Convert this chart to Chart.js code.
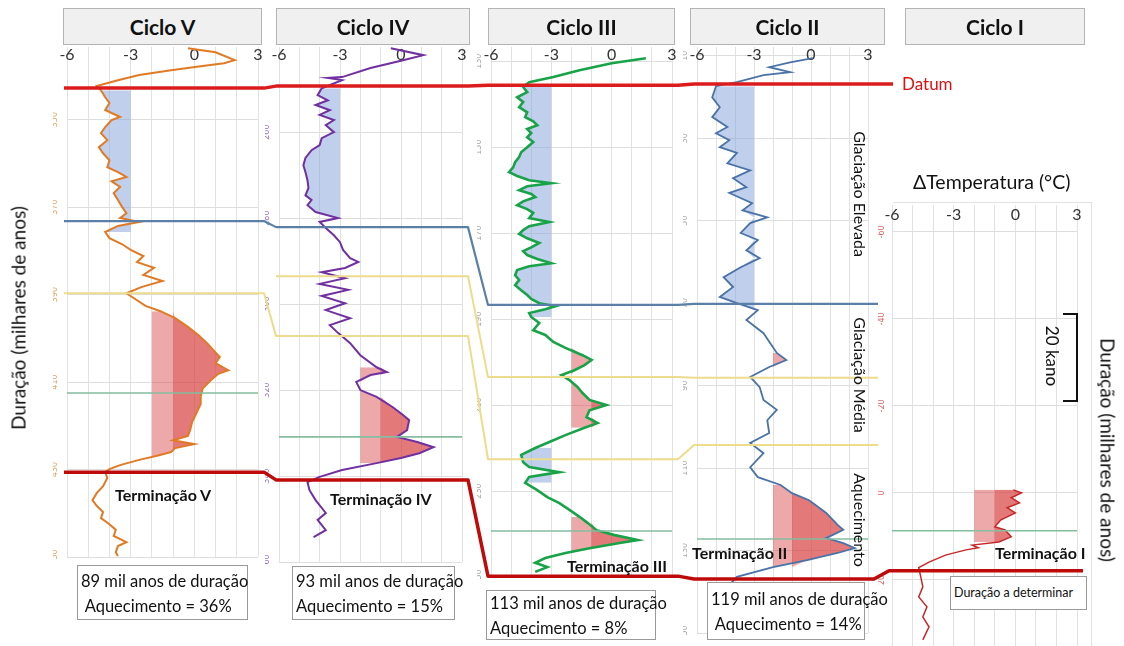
<!DOCTYPE html>
<html lang="pt">
<head>
<meta charset="utf-8">
<title>Ciclos glaciais</title>
<script src="https://cdn.jsdelivr.net/npm/chart.js@4.4.1/dist/chart.umd.min.js"></script>
<style>
  html, body { margin: 0; padding: 0; background: #fff; }
  #stage { position: relative; width: 1124px; height: 646px; overflow: hidden; font-family: Lato, "Open Sans", sans-serif; color: #111; }
  #stage canvas { position: absolute; }
  #overlay { left: 0; top: 0; pointer-events: none; z-index: 2; }
  .header { position: absolute; top: 8px; height: 37px; background: #f0f0f0; border: 1px solid #b4b4b4; box-sizing: border-box; display: flex; align-items: center; justify-content: center; font-weight: 700; font-size: 21px; z-index: 3; }
  .note { position: absolute; background: #fff; border: 1px solid #9a9a9a; box-sizing: border-box; font-size: 16.5px; line-height: 25px; padding: 1px 3px; white-space: nowrap; z-index: 3; }
  .term { position: absolute; font-weight: 700; font-size: 16px; white-space: nowrap; transform: translateY(-50%); z-index: 3; }
  .rot { position: absolute; white-space: nowrap; z-index: 3; }
  .frame { position: absolute; border-top: 1px solid #e2e2e2; border-right: 1px solid #e2e2e2; z-index: 0; }
</style>
</head>
<body>
<div id="stage"></div>
<script>
// curvas: [tempo (milhares de anos), ΔTemperatura (°C)]
const cicloV = [[333.7,-0.3],[334.6,1.0],[336.4,1.9],[337.1,1.4],[337.8,0.3],[338.7,-1.1],[339.8,-2.6],[341.0,-3.6],[342.3,-4.6],[343.3,-4.4],[344.9,-4.2],[346.2,-4.0],[347.8,-4.2],[349.4,-3.5],[350.1,-3.9],[351.7,-4.2],[353.1,-4.4],[354.7,-4.1],[356.3,-4.5],[357.7,-4.3],[359.3,-4.0],[360.9,-4.1],[362.0,-3.6],[363.1,-3.2],[364.1,-3.9],[365.4,-3.5],[366.8,-3.8],[368.4,-3.6],[370.0,-3.4],[371.4,-3.2],[372.5,-3.5],[373.4,-2.6],[374.3,-3.6],[375.7,-4.2],[377.1,-4.0],[378.5,-3.4],[379.8,-3.0],[381.2,-2.4],[382.6,-2.7],[383.9,-1.9],[385.5,-2.4],[386.9,-1.5],[388.3,-2.5],[389.7,-3.2],[391.3,-2.7],[392.6,-2.3],[393.8,-1.6],[395.4,-0.9],[397.4,-0.3],[399.3,0.2],[401.1,0.6],[402.7,0.9],[404.3,1.2],[405.7,1.0],[407.3,1.6],[408.2,1.1],[409.5,0.8],[411.4,0.4],[413.2,0.3],[415.0,0.3],[417.1,0.1],[419.1,-0.1],[421.0,-0.2],[422.3,-0.3],[423.3,-1.0],[424.2,0.0],[425.1,-0.9],[426.0,-1.1],[426.9,-1.8],[427.8,-2.6],[429.0,-3.5],[429.9,-4.0],[430.6,-4.2],[431.9,-4.1],[433.8,-4.3],[435.4,-4.6],[437.0,-4.8],[438.3,-4.6],[439.7,-4.3],[441.1,-4.4],[442.5,-4.0],[443.8,-3.7],[445.2,-3.8],[446.6,-3.2],[447.5,-3.6],[448.9,-3.7],[449.8,-3.6]];
const cicloIV = [[240.5,-0.5],[242.1,1.1],[243.3,0.1],[245.1,-1.5],[247.2,-2.9],[247.4,-3.6],[247.9,-2.9],[249.8,-3.9],[251.4,-4.1],[252.6,-3.6],[253.7,-4.2],[254.9,-3.5],[256.0,-4.0],[257.2,-3.3],[258.4,-3.7],[260.0,-3.3],[261.4,-3.9],[263.0,-4.0],[264.2,-4.4],[266.0,-4.7],[267.7,-4.8],[269.3,-4.7],[271.2,-4.6],[273.0,-4.55],[274.7,-4.7],[275.8,-4.4],[277.0,-4.6],[278.6,-4.2],[280.0,-3.1],[280.9,-4.0],[282.3,-3.7],[284.0,-3.3],[285.6,-3.0],[287.4,-2.85],[289.3,-2.5],[290.2,-2.1],[291.6,-2.75],[292.6,-3.9],[294.0,-2.75],[295.3,-4.0],[296.7,-2.6],[298.1,-3.9],[299.8,-2.75],[301.4,-3.7],[303.3,-2.5],[304.9,-3.5],[306.7,-3.1],[309.1,-2.5],[311.9,-2.0],[314.7,-1.2],[315.8,-0.7],[316.5,-1.5],[318.1,-2.2],[320.0,-2.0],[321.6,-1.2],[324.0,-0.4],[325.8,0.1],[327.0,0.4],[329.3,0.3],[330.9,-0.2],[332.1,0.8],[333.3,1.6],[334.7,0.9],[335.8,0.0],[337.0,-1.2],[338.6,-2.9],[340.2,-4.0],[341.4,-4.6],[343.3,-4.5],[345.6,-4.2],[348.6,-3.7],[350.2,-4.1],[352.6,-3.7],[354.2,-4.3]];
const cicloIII = [[129.3,1.7],[130.5,0.0],[132.1,-1.6],[133.7,-2.9],[134.9,-4.1],[136.0,-4.4],[137.2,-4.2],[138.4,-4.7],[139.5,-4.4],[140.7,-4.6],[141.9,-4.2],[143.0,-4.3],[144.0,-3.9],[144.9,-3.7],[145.8,-4.2],[146.7,-4.0],[147.7,-4.2],[148.8,-3.9],[150.0,-4.2],[151.2,-4.5],[152.3,-4.6],[153.5,-4.8],[154.7,-4.9],[155.8,-5.1],[156.7,-4.7],[157.7,-4.1],[158.4,-3.0],[159.1,-4.2],[160.0,-4.6],[160.9,-4.0],[161.6,-3.8],[162.6,-4.4],[163.5,-4.7],[164.4,-4.2],[165.3,-3.9],[166.5,-4.1],[167.4,-3.1],[168.4,-4.1],[169.3,-4.4],[170.2,-4.6],[171.2,-4.2],[172.3,-3.6],[173.3,-4.0],[174.2,-4.4],[175.1,-4.2],[176.0,-3.7],[177.0,-3.0],[177.7,-4.1],[178.6,-4.7],[179.8,-4.8],[180.9,-4.6],[182.1,-4.8],[183.3,-4.5],[184.4,-4.2],[185.3,-4.0],[186.3,-3.6],[187.0,-2.8],[187.7,-3.3],[188.6,-4.1],[189.5,-4.0],[190.9,-3.6],[192.6,-3.9],[193.7,-3.3],[195.3,-2.9],[196.7,-2.3],[198.4,-1.45],[199.5,-1.0],[200.7,-1.35],[201.9,-1.85],[203.0,-2.5],[204.2,-2.1],[205.8,-1.7],[207.2,-1.45],[208.8,-1.1],[210.0,-0.26],[211.2,-1.1],[212.8,-1.25],[214.2,-0.7],[215.3,-1.35],[217.0,-2.3],[218.6,-3.1],[220.0,-3.8],[221.6,-4.5],[223.3,-4.4],[224.4,-4.1],[225.6,-2.6],[226.7,-4.1],[228.1,-4.3],[229.8,-3.7],[231.4,-3.2],[232.8,-2.6],[234.4,-2.1],[236.0,-1.6],[237.4,-1.2],[239.1,-0.75],[240.2,0.1],[241.4,1.3],[242.1,0.4],[243.3,-1.1],[244.4,-2.3],[245.6,-3.3],[246.7,-3.8],[247.7,-3.2],[248.8,-3.8]];
const cicloII = [[10.6,0.1],[11.6,-1.1],[12.8,-2.2],[14.0,-1.1],[14.7,-2.5],[16.4,-3.9],[17.4,-5.0],[20.1,-5.2],[22.5,-4.8],[24.9,-5.2],[27.3,-4.4],[28.8,-5.0],[30.5,-4.3],[32.2,-4.8],[33.6,-3.9],[36.1,-4.4],[37.8,-3.2],[39.7,-4.1],[41.9,-3.4],[43.3,-4.3],[45.8,-3.1],[47.5,-3.6],[49.2,-2.3],[50.6,-3.2],[53.0,-3.7],[54.7,-2.8],[57.2,-3.4],[59.1,-2.7],[61.3,-3.7],[63.7,-4.6],[66.1,-4.1],[68.5,-4.8],[70.0,-3.9],[71.7,-2.8],[74.1,-3.4],[77.3,-2.5],[82.1,-1.8],[83.8,-1.3],[85.5,-2.2],[87.9,-3.2],[90.4,-2.7],[93.5,-2.5],[95.9,-1.8],[98.4,-2.3],[101.5,-2.2],[103.9,-3.2],[106.4,-2.5],[109.8,-3.2],[112.2,-2.8],[114.1,-1.6],[116.1,-1.0],[117.8,-0.1],[120.9,0.8],[123.8,1.4],[125.0,1.7],[127.0,0.8],[128.2,1.7],[129.4,2.3],[130.6,1.4],[132.3,-0.2],[134.0,-2.0],[136.4,-3.9],[138.4,-4.3]];
const cicloI = [[-0.7,-0.1],[0.0,0.3],[1.1,-0.2],[2.3,0.2],[3.4,-0.4],[4.6,0.0],[6.2,-0.7],[7.8,-1.0],[8.5,-0.5],[10.1,-0.2],[11.3,-0.8],[12.0,-2.1],[12.6,-1.8],[13.1,-2.4],[14.3,-3.4],[15.9,-4.2],[17.2,-4.7],[19.3,-4.6],[21.6,-4.5],[23.9,-4.7],[26.2,-4.3],[28.5,-4.5],[30.8,-4.2],[33.8,-4.5]];

// faixas de tempo sombreadas (glaciação elevada / aquecimento)
const azulV = [[342.8, 376.0]];
const vermelhoV = [[393.5, 426.9]];
const azulIV = [[248.6, 280.5]];
const vermelhoIV = [[314.7, 337.4]];
const azulIII = [[135.6, 189.5], [219.8, 229.3]];
const vermelhoIII = [[196.7, 215.8], [235.1, 244.4]];
const azulII = [[16.9, 72.4]];
const vermelhoII = [[82.1, 85.5], [114.1, 134.0]];
const azulI = [];
const vermelhoI = [[-0.7, 11.3]];

// eixos de tempo
const tempoV = [333.4, 450];
const tempoIV = [240.2, 360];
const tempoIII = [126.7, 250];
const tempoII = [7.9, 150];
const tempoI = [-66.2, 35.2];
const ticksV = [350, 370, 390, 410, 430, 450];
const ticksIV = [260, 280, 300, 320, 340, 360];
const ticksIII = [130, 150, 170, 190, 210, 230, 250];
const ticksII = [10, 30, 50, 70, 90, 110, 130, 150];
const ticksI = [-60, -40, -20, 0, 20];
const tempRange = [-6, 3];

// linhas de ligação entre ciclos (V, IV, III, II, I)
const datum = [342.8, 249.3, 135.6, 16.9, null];
const limiteAzul = [373.2, 282.1, 186.7, 70.2, null];
const limiteAmareloA = [389.7, 307.4, 222.6, 104.4, null];
const limiteAmareloB = [null, 293.5, 203.5, 88.1, null];
const limiteVerde = [412.5, 330.9, 239.3, 127.2, 8.7];
const terminacao = [430.6, 340.9, 249.8, 136.9, 17.9];

const panels = [
    { curve: cicloV, blue: azulV, red: vermelhoV, range: tempoV, ticks: ticksV, color: "#e07a25", width: 2, tickColor: "#e6a25e", area: { left: 67, top: 47, right: 258, bottom: 557 }, labelY: 55 },
    { curve: cicloIV, blue: azulIV, red: vermelhoIV, range: tempoIV, ticks: ticksIV, color: "#7030a0", width: 2, tickColor: "#9b72c8", area: { left: 279, top: 47, right: 462, bottom: 562 }, labelY: 55 },
    { curve: cicloIII, blue: azulIII, red: vermelhoIII, range: tempoIII, ticks: ticksIII, color: "#18a348", width: 2.6, tickColor: "#a8a8a8", area: { left: 491, top: 47, right: 672, bottom: 577 }, labelY: 55 },
    { curve: cicloII, blue: azulII, red: vermelhoII, range: tempoII, ticks: ticksII, color: "#4a72a8", width: 1.8, tickColor: "#a8a8a8", area: { left: 697, top: 47, right: 868, bottom: 633 }, labelY: 55 },
    { curve: cicloI, blue: azulI, red: vermelhoI, range: tempoI, ticks: ticksI, color: "#c62828", width: 1.5, tickColor: "#e06060", area: { left: 892, top: 205, right: 1077, bottom: 646 }, labelY: 215 },
];

const Y_AXIS_W = 14;
const X_AXIS_H = 4;
const stage = document.getElementById("stage");

function toPoints(rows) {
    return rows.map(([t, v]) => ({ x: v, y: t }));
}

function fillSet(points, edge, keep, color) {
    return {
        data: points.map((p) => ({ x: keep(p.x, edge), y: p.y })),
        borderColor: "rgba(0,0,0,0)",
        borderWidth: 0,
        backgroundColor: color,
        pointRadius: 0,
        fill: { value: edge },
    };
}

function buildPanel(p) {
    const a = p.area;
    const canvas = document.createElement("canvas");
    const left = a.left - Y_AXIS_W;
    const top = a.top - X_AXIS_H;
    canvas.width = Y_AXIS_W + (a.right - a.left) + 12;
    canvas.height = X_AXIS_H + (a.bottom - a.top) + 2;
    canvas.style.left = `${left}px`;
    canvas.style.top = `${top}px`;
    stage.appendChild(canvas);

    const points = toPoints(p.curve);
    const datasets = [
        { data: points, borderColor: p.color, borderWidth: p.width, pointRadius: 0, fill: false, tension: 0 },
    ];
    p.red.forEach(([t0, t1]) => {
        const seg = points.filter((q) => q.y >= t0 && q.y <= t1);
        datasets.push(fillSet(seg, -1, Math.max, "rgba(214, 64, 64, 0.45)"));
        datasets.push(fillSet(seg, -2, Math.max, "rgba(214, 64, 64, 0.45)"));
    });
    p.blue.forEach(([t0, t1]) => {
        const seg = points.filter((q) => q.y >= t0 && q.y <= t1);
        datasets.push(fillSet(seg, -3, Math.min, "rgba(128, 160, 218, 0.5)"));
    });

    const chart = new Chart(canvas, {
        type: "line",
        data: { datasets },
        options: {
            indexAxis: "y",
            responsive: false,
            animation: false,
            events: [],
            layout: { autoPadding: false, padding: { left: 0, top: 0, right: 12, bottom: 2 } },
            plugins: { legend: { display: false }, tooltip: { enabled: false } },
            scales: {
                x: {
                    type: "linear",
                    position: "top",
                    min: tempRange[0],
                    max: tempRange[1],
                    border: { display: false },
                    grid: { color: "#e2e2e2", drawTicks: false },
                    ticks: {
                        stepSize: 1,
                        autoSkip: false,
                        maxRotation: 0,
                        mirror: true,
                        padding: p.labelY - a.top - 9.6,
                        color: "#333",
                        font: { family: "Lato, 'Open Sans', sans-serif", size: 16 },
                        callback: (v) => (v % 3 === 0 ? String(v) : ""),
                    },
                    afterFit: (s) => { s.height = X_AXIS_H; s.paddingLeft = 0; s.paddingRight = 0; },
                },
                y: {
                    type: "linear",
                    reverse: true,
                    min: p.range[0],
                    max: p.range[1],
                    border: { display: false },
                    grid: { color: "#dedede", drawTicks: false },
                    afterBuildTicks: (s) => { s.ticks = p.ticks.map((value) => ({ value })); },
                    ticks: {
                        minRotation: 90,
                        maxRotation: 90,
                        crossAlign: "center",
                        padding: 4,
                        color: p.tickColor,
                        font: { family: "'DejaVu Sans', sans-serif", size: 8 },
                    },
                    afterFit: (s) => { s.width = Y_AXIS_W; s.paddingTop = 0; s.paddingBottom = 0; },
                },
            },
        },
    });
    return { chart, left, top };
}

// moldura clara do painel do ciclo I
const frame = document.createElement("div");
frame.className = "frame";
Object.assign(frame.style, { left: "893px", top: "202px", width: "198px", height: "460px" });
stage.appendChild(frame);

const built = panels.map(buildPanel);

// linhas de ligação desenhadas a partir das escalas de cada painel
const overlay = document.createElement("canvas");
overlay.id = "overlay";
overlay.width = 1124;
overlay.height = 646;
stage.appendChild(overlay);
const ctx = overlay.getContext("2d");

const geo = built.map(({ chart, left, top }) => ({
    x0: left + chart.chartArea.left,
    x1: left + chart.chartArea.right,
    y: (t) => top + chart.scales.y.getPixelForValue(t),
}));

function chain(times, color, width, tail) {
    ctx.beginPath();
    let started = false;
    let lastX = 0;
    let lastY = 0;
    times.forEach((t, i) => {
        if (t === null) return;
        const g = geo[i];
        const y = g.y(t);
        if (!started) { ctx.moveTo(g.x0 - 3, y); started = true; } else { ctx.lineTo(g.x0 - 3, y); }
        lastX = g.x1 + 6;
        lastY = y;
        ctx.lineTo(lastX, y);
    });
    ctx.lineTo(lastX + tail, lastY);
    ctx.strokeStyle = color;
    ctx.lineWidth = width;
    ctx.lineJoin = "round";
    ctx.stroke();
}

function separate(times, color, width) {
    times.forEach((t, i) => {
        if (t === null) return;
        const g = geo[i];
        const y = g.y(t);
        ctx.beginPath();
        ctx.moveTo(g.x0, y);
        ctx.lineTo(g.x1, y);
        ctx.strokeStyle = color;
        ctx.lineWidth = width;
        ctx.stroke();
    });
}

separate(limiteVerde, "#86bda0", 1.6);
chain(limiteAmareloA, "#ecdc8c", 2, 4);
chain(limiteAmareloB, "#ecdc8c", 2, 4);
chain(limiteAzul, "#5b80a8", 2.2, 4);
chain(datum, "#dc1c1c", 3.5, 19);
chain(terminacao, "#bf0a0a", 3.5, 0);

// textos
function addDiv(cls, text, style) {
    const d = document.createElement("div");
    d.className = cls;
    d.innerHTML = text;
    Object.assign(d.style, style);
    stage.appendChild(d);
    return d;
}

[["Ciclo V", 63, 199], ["Ciclo IV", 276, 194], ["Ciclo III", 488, 187], ["Ciclo II", 690, 195], ["Ciclo I", 905, 180]]
    .forEach(([t, x, w]) => addDiv("header", t, { left: `${x}px`, width: `${w}px` }));

[["89 mil anos de duração<br>&nbsp;Aquecimento = 36%", 77, 565, 171, 55],
 ["93 mil anos de duração<br>Aquecimento = 15%", 292, 566, 163, 54],
 ["113 mil anos de duração<br>Aquecimento = 8%", 486, 590, 170, 50],
 ["119 mil anos de duração<br>&nbsp;Aquecimento = 14%", 707, 582, 158, 58]]
    .forEach(([t, x, y, w, h]) => addDiv("note", t, { left: `${x}px`, top: `${y}px`, width: `${w}px`, height: `${h}px`, paddingTop: `${(h - 50) / 2}px` }));
addDiv("note", "Duração a determinar", { left: "950px", top: "576px", width: "137px", height: "34px", fontSize: "12.5px", lineHeight: "32px", padding: "0 3px" });

[["Terminação V", 115, 494], ["Terminação IV", 330, 498], ["Terminação III", 567, 565], ["Terminação II", 692, 552], ["Terminação I", 995, 552]]
    .forEach(([t, x, y]) => addDiv("term", t, { left: `${x}px`, top: `${y}px` }));

function rotated(text, cx, cy, deg, size) {
    return addDiv("rot", text, { left: `${cx}px`, top: `${cy}px`, fontSize: `${size}px`, transform: `translate(-50%, -50%) rotate(${deg}deg)` });
}
rotated("Duração (milhares de anos)", 18, 318, -90, 19);
rotated("Duração (milhares de anos)", 1108, 450, 90, 19);
rotated("Glaciação Elevada", 860, 194, 90, 16);
rotated("Glaciação Média", 860, 375, 90, 16);
rotated("Aquecimento", 860, 520, 90, 16);
rotated("20 kano", 1052, 356, 90, 17);
addDiv("rot", "", { left: "1063px", top: "313px", width: "13px", height: "85px", borderTop: "2.5px solid #111", borderRight: "2.5px solid #111", borderBottom: "2.5px solid #111" });
addDiv("rot", "Datum", { left: "902px", top: "73px", fontSize: "17px", color: "#e01010" });
addDiv("rot", "ΔTemperatura (°C)", { left: "913px", top: "170px", fontSize: "19.5px" });
</script>
</body>
</html>
